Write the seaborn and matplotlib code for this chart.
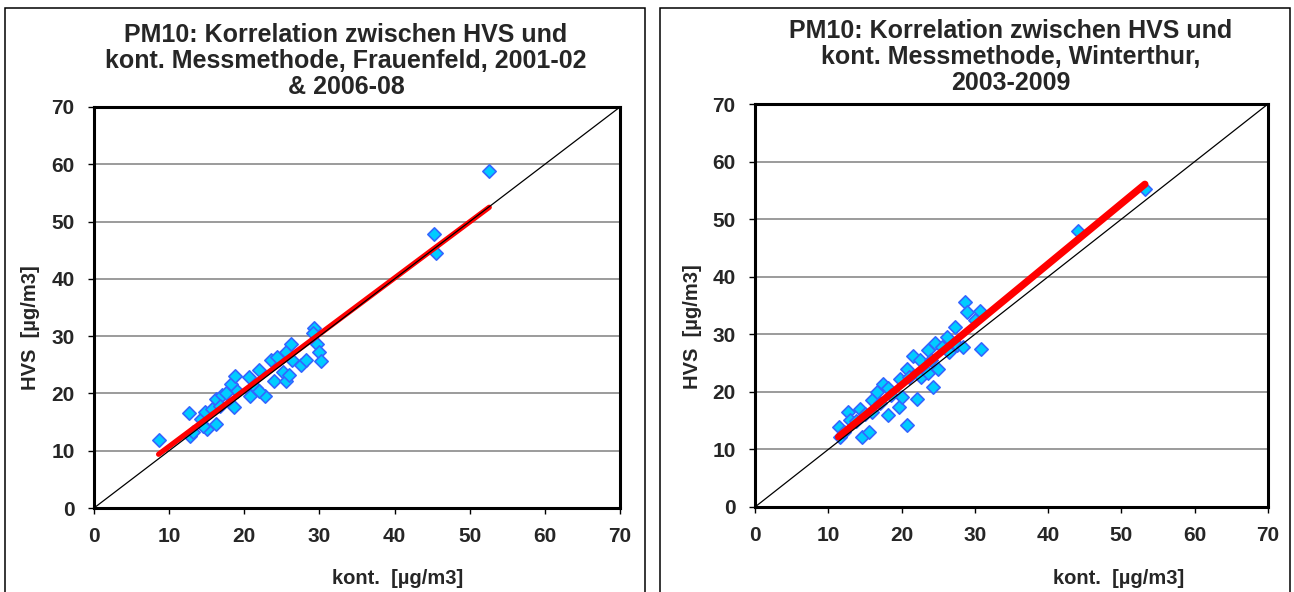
import numpy as np
import pandas as pd
import matplotlib
matplotlib.use("Agg")
import matplotlib.pyplot as plt
from matplotlib.patches import Rectangle
import seaborn as sns

# --- PM10 daily means: continuous monitor (x) vs. high-volume sampler (y) ---
frauenfeld_kont = [8.6, 12.6, 12.8, 13.2, 14.2, 14.8, 15.0, 15.7, 16.2, 16.2,
                   17.0, 16.8, 18.2, 18.8, 18.6, 19.0, 20.6, 20.8, 21.5, 21.9,
                   22.8, 23.5, 23.9, 24.4, 25.1, 25.5, 25.9, 25.5, 26.2, 26.4,
                   27.5, 28.2, 29.3, 29.1, 29.7, 29.9, 30.2, 14.5, 17.5, 22.0,
                   45.3, 45.5, 52.6]
frauenfeld_hvs = [11.9, 16.5, 12.6, 13.3, 15.5, 16.7, 13.8, 17.2, 14.7, 19.0,
                  19.8, 17.8, 21.6, 23.0, 17.6, 20.4, 22.8, 19.5, 21.0, 24.1,
                  19.5, 25.9, 22.1, 26.4, 23.8, 22.1, 23.3, 27.3, 28.7, 25.9,
                  25.0, 25.9, 31.4, 30.5, 28.7, 27.3, 25.6, 14.4, 20.0, 20.5,
                  47.8, 44.6, 58.8]

winterthur_kont = [11.6, 11.4, 12.7, 13.0, 14.3, 14.6, 15.5, 15.0, 15.9, 16.6,
                   17.5, 18.2, 18.2, 18.6, 19.6, 19.8, 20.0, 20.7, 20.7, 21.6,
                   22.1, 22.5, 22.7, 23.6, 23.6, 24.3, 24.6, 25.0, 25.5, 26.2,
                   27.3, 27.5, 28.4, 28.6, 28.9, 30.7, 30.9, 30.0, 12.2, 13.8,
                   16.0, 17.0, 21.0, 24.0, 26.5, 44.1, 53.2]
winterthur_hvs = [12.2, 13.9, 16.5, 15.1, 17.1, 12.2, 13.1, 16.2, 18.5, 20.0,
                  21.4, 20.6, 15.9, 19.4, 17.4, 22.3, 19.1, 24.0, 14.2, 26.3,
                  18.8, 25.5, 22.6, 27.2, 23.2, 20.8, 28.4, 24.0, 27.8, 29.5,
                  31.2, 28.1, 27.8, 35.6, 33.8, 34.1, 27.5, 32.4, 13.0, 15.0,
                  16.5, 18.0, 22.5, 25.5, 27.0, 48.0, 55.3]

# linear regression HVS = slope * kont + intercept
frauenfeld_fit = (0.98, 0.95)
winterthur_fit = (1.05, 0.20)

axis_ticks = [0, 10, 20, 30, 40, 50, 60, 70]

titles = [
    "PM10: Korrelation zwischen HVS und\nkont. Messmethode, Frauenfeld, 2001-02\n& 2006-08",
    "PM10: Korrelation zwischen HVS und\nkont. Messmethode, Winterthur,\n2003-2009",
]
x_label = "kont.  [µg/m3]"
y_label = "HVS  [µg/m3]"

# --- style ---
sns.set_theme(style="white")
plt.rcParams["font.family"] = ["Liberation Sans", "DejaVu Sans"]
plt.rcParams["font.weight"] = "bold"

W, H = 1294, 592
fig = plt.figure(figsize=(W / 100, H / 100), dpi=100)
fig.patch.set_facecolor("white")


def px_x(p):
    return p / W


def px_y(p):
    return 1 - p / H


panels = [
    dict(kont=frauenfeld_kont, hvs=frauenfeld_hvs, fit=frauenfeld_fit, fit_lw=3.8,
         axes=(94, 620, 107, 508), title=titles[0], title_x=346, title_y=61,
         box=(5, 645), xlab=(398, 578), ylab=(30, 328)),
    dict(kont=winterthur_kont, hvs=winterthur_hvs, fit=winterthur_fit, fit_lw=5.2,
         axes=(755, 1268, 104, 507), title=titles[1], title_x=1011, title_y=57,
         box=(660, 1290), xlab=(1119, 578), ylab=(693, 327)),
]

for p in panels:
    # panel frame
    bx0, bx1 = p["box"]
    fig.patches.append(Rectangle((px_x(bx0), -0.05), px_x(bx1 - bx0), px_y(8) + 0.05,
                                 transform=fig.transFigure, fill=False,
                                 edgecolor="black", linewidth=1.1, zorder=0))

    x0, x1, y0, y1 = p["axes"]
    ax = fig.add_axes([px_x(x0), px_y(y1), px_x(x1 - x0), (y1 - y0) / H])
    ax.set_facecolor("white")

    df = pd.DataFrame({"kont": p["kont"], "hvs": p["hvs"]})
    sns.scatterplot(data=df, x="kont", y="hvs", ax=ax, marker="D", s=46,
                    color="#00CCFF", edgecolor="#3366FF", linewidth=1.2, zorder=3)

    slope, intercept = p["fit"]
    fx = np.array([min(p["kont"]), max(p["kont"])])
    ax.plot(fx, slope * fx + intercept, color="#FF0000", linewidth=p["fit_lw"],
            solid_capstyle="round", zorder=4)

    # 1:1 reference line
    ax.plot([axis_ticks[0], axis_ticks[-1]], [axis_ticks[0], axis_ticks[-1]],
            color="black", linewidth=0.9, zorder=5)

    ax.set_xlim(axis_ticks[0], axis_ticks[-1])
    ax.set_ylim(axis_ticks[0], axis_ticks[-1])
    ax.set_xticks(axis_ticks)
    ax.set_yticks(axis_ticks)
    ax.set_xticklabels([str(t) for t in axis_ticks])
    ax.set_yticklabels([str(t) for t in axis_ticks])
    ax.set_xlabel("")
    ax.set_ylabel("")
    ax.yaxis.grid(True, color="#808080", linewidth=1.1)
    ax.xaxis.grid(False)
    ax.set_axisbelow(True)
    for s in ax.spines.values():
        s.set_visible(True)
        s.set_color("black")
        s.set_linewidth(2.2)
    ax.tick_params(axis="both", direction="out", length=4, width=1.0,
                   color="black", pad=10, labelsize=15, bottom=True, left=True)
    for lbl in ax.get_xticklabels() + ax.get_yticklabels():
        lbl.set_fontweight("bold")

    fig.text(px_x(p["title_x"]), px_y(p["title_y"]), p["title"], ha="center", va="center",
             fontsize=18, fontweight="bold", linespacing=1.1)
    fig.text(px_x(p["xlab"][0]), px_y(p["xlab"][1]), x_label, ha="center", va="center",
             fontsize=14.5, fontweight="bold")
    fig.text(px_x(p["ylab"][0]), px_y(p["ylab"][1]), y_label, ha="center", va="center",
             fontsize=14.5, fontweight="bold", rotation=90)

fig.savefig("out.png", dpi=100, facecolor="white")
